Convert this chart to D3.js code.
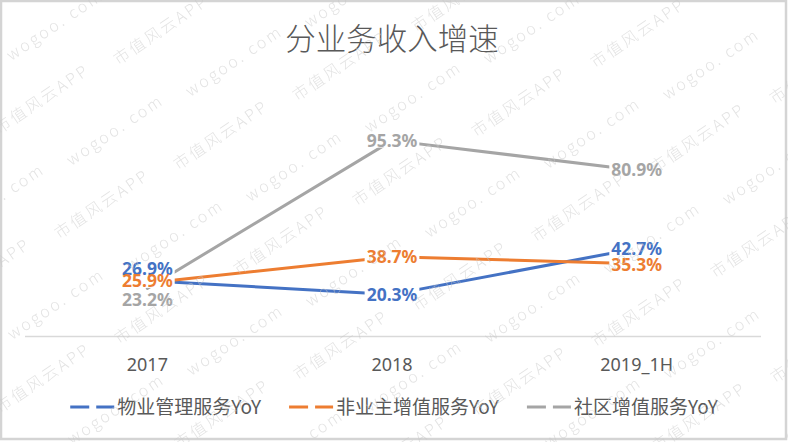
<!DOCTYPE html>
<html><head><meta charset="utf-8">
<script src="https://cdn.jsdelivr.net/npm/d3@7"></script>
<style>body{margin:0;background:#fff} svg{display:block}</style>
</head><body>
<svg id="c" width="788" height="442"></svg>
<script>
// ---- data ----
const categories = ["2017", "2018", "2019_1H"];
const seriesNames = ["物业管理服务YoY", "非业主增值服务YoY", "社区增值服务YoY"];
const propertyMgmtYoY = [26.9, 20.3, 42.7];
const nonOwnerVasYoY = [25.9, 38.7, 35.3];
const communityVasYoY = [23.2, 95.3, 80.9];
const title = "分业务收入增速";

const seriesValues = [propertyMgmtYoY, nonOwnerVasYoY, communityVasYoY];
const colors = ["#4472C4", "#ED7D31", "#A5A5A5"];
// manual label nudges (px) to avoid overlap, per series per category
const labelNudge = [[-12, 0, 0], [-2, 0, 1.5], [11, 0, 0]];

const W = 788, H = 442;
const svg = d3.select("#c");
svg.append("rect").attr("width", W).attr("height", H).attr("fill", "#fff");

const x = d3.scaleBand().domain(categories).range([25, 759]);
const y = d3.scaleLinear().domain([0, 100]).range([336, 131]);
const cx = c => x(c) + x.bandwidth() / 2;

// title
svg.append("text").attr("x", 392).attr("y", 50).attr("text-anchor", "middle")
  .attr("font-family", "'Noto Sans CJK SC', sans-serif").attr("font-weight", 300)
  .attr("font-size", 30.5).attr("fill", "#595959").text(title);

// baseline axis
svg.append("line").attr("x1", 25).attr("x2", 761).attr("y1", 336.5).attr("y2", 336.5)
  .attr("stroke", "#d9d9d9").attr("stroke-width", 1.5);

// category axis labels
const xAxis = d3.axisBottom(x).tickSize(0).tickPadding(0);
const gx = svg.append("g").attr("transform", "translate(0,358)").call(xAxis);
gx.select(".domain").remove();
gx.selectAll("text").attr("font-family", "'Noto Sans', sans-serif").attr("font-size", 18)
  .attr("fill", "#595959").attr("dy", "0.71em");

// lines
const line = d3.line().x((d, i) => cx(categories[i])).y(d => y(d));
seriesValues.forEach((vals, s) => {
  svg.append("path").datum(vals).attr("d", line).attr("fill", "none")
    .attr("stroke", colors[s]).attr("stroke-width", 3)
    .attr("stroke-linejoin", "round").attr("stroke-linecap", "round");
});

// data labels: white boxes first, then texts
const boxLayer = svg.append("g");
const textLayer = svg.append("g");
seriesValues.forEach((vals, s) => {
  vals.forEach((v, i) => {
    const px = cx(categories[i]), py = y(v) + labelNudge[s][i];
    const t = textLayer.append("text").attr("x", px).attr("y", py)
      .attr("text-anchor", "middle").attr("dy", "0.36em")
      .attr("font-family", "'Noto Sans', sans-serif").attr("font-weight", "bold")
      .attr("font-size", 17.5).attr("fill", colors[s]).text(v.toFixed(1) + "%");
    const w = t.node().getComputedTextLength();
    boxLayer.append("rect").attr("x", px - w / 2 - 2).attr("y", py - 7)
      .attr("width", w + 4).attr("height", 14).attr("fill", "#fff");
  });
});

// legend
const legend = svg.append("g");
const items = [];
seriesNames.forEach((name, s) => {
  const g = legend.append("g");
  g.append("line").attr("x1", 0).attr("x2", 44).attr("y1", 0).attr("y2", 0)
    .attr("stroke", colors[s]).attr("stroke-width", 3).attr("stroke-dasharray", "19 7");
  const t = g.append("text").attr("x", 47).attr("y", 0).attr("dy", "0.36em")
    .attr("font-family", "'Noto Sans CJK SC', sans-serif").attr("font-size", 19)
    .attr("fill", "#595959").text(name);
  const w = 47 + t.node().getComputedTextLength();
  items.push({g, w});
});
const total = items.reduce((acc, it) => acc + it.w, 0) + 28 * (items.length - 1);
let lx = 394 - total / 2;
items.forEach(it => { it.g.attr("transform", `translate(${lx},407)`); lx += it.w + 28; });

// outer frame
svg.append("rect").attr("x", 1).attr("y", 1).attr("width", 785).attr("height", 438)
  .attr("fill", "none").attr("stroke", "#d4d4d4").attr("stroke-width", 2.5);

// watermark
const wm = svg.append("g").attr("fill", "#c8c8c8").attr("opacity", 0.5)
  .attr("font-family", "'Noto Sans CJK SC', sans-serif").attr("font-size", 16)
  .attr("font-weight", 300).attr("letter-spacing", 2.5).attr("text-anchor", "middle");
const base = [579, 207], a = [-119, 69], b = [60, 105];
for (let m = -8; m <= 8; m++) for (let n = -8; n <= 8; n++) {
  const sx = base[0] + m * a[0] + n * b[0], sy = base[1] + m * a[1] + n * b[1];
  if (sx > -120 && sx < 920 && sy > -60 && sy < 510) {
    wm.append("text").attr("transform", `translate(${sx},${sy}) rotate(-34)`).attr("dy", "0.35em").text("市值风云APP");
    wm.append("text").attr("transform", `translate(${sx - 106},${sy - 5}) rotate(-34)`).attr("dy", "0.35em").text("wogoo. com");
  }
}
</script>
</body></html>
